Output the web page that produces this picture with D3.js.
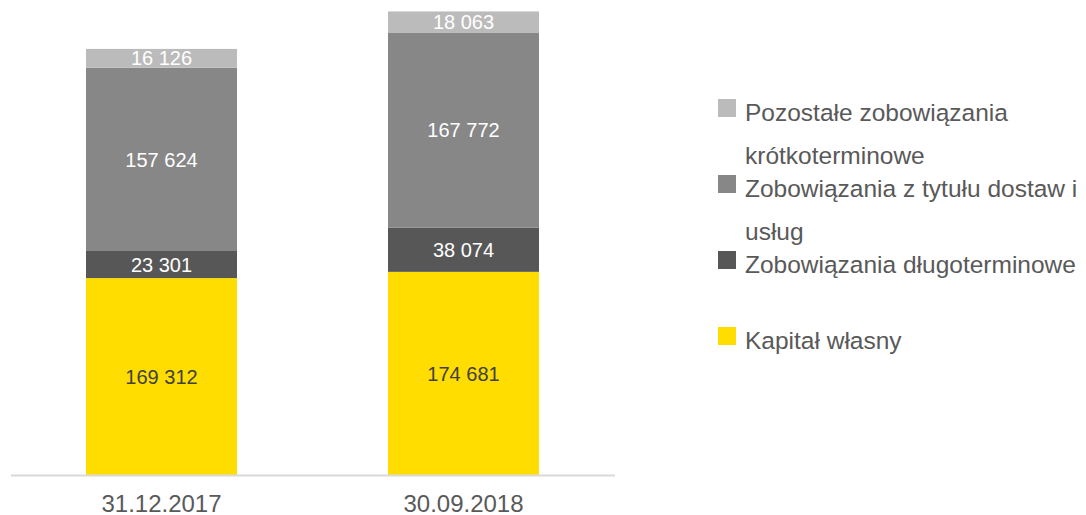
<!DOCTYPE html>
<meta charset="utf-8">
<style>
body { margin: 0; background: #fff; }
text { font-family: Arial, "Liberation Sans", sans-serif; }
</style>
<svg width="1086" height="515"></svg>
<script src="https://d3js.org/d3.v7.min.js"></script>
<script>

// data
var dates = ["31.12.2017", "30.09.2018"];
var kapital = [169312, 174681];
var dlugo = [23301, 38074];
var dostawy = [157624, 167772];
var pozostale = [16126, 18063];

var seriesNames = ["Kapitał własny", "Zobowiązania długoterminowe",
  "Zobowiązania z tytułu dostaw i usług", "Pozostałe zobowiązania krótkoterminowe"];
var seriesKeys = ["kapital", "dlugo", "dostawy", "pozostale"];
var seriesColors = ["#ffdd00", "#575757", "#878787", "#bbbbbb"];
var labelColors = ["#404040", "#ffffff", "#ffffff", "#ffffff"];

// legend lines (wrapped like the original), top to bottom
var legendLines = [
  ["Pozostałe zobowiązania", "krótkoterminowe"],
  ["Zobowiązania z tytułu dostaw i", "usług"],
  ["Zobowiązania długoterminowe"],
  ["Kapitał własny"]
];
var legendColors = ["#bbbbbb", "#878787", "#575757", "#ffdd00"];

var rows = dates.map(function(d, i) {
  return { date: d, kapital: kapital[i], dlugo: dlugo[i], dostawy: dostawy[i], pozostale: pozostale[i] };
});

var svg = d3.select("svg");

var x = d3.scaleBand()
    .domain(dates)
    .range([10.5, 614.5])
    .paddingInner(0.5)
    .paddingOuter(0.25);

var y = d3.scaleLinear()
    .domain([0, 400000])
    .range([475, 9.8]);

var stack = d3.stack().keys(seriesKeys);
var stacked = stack(rows);

var layers = svg.append("g").selectAll("g")
  .data(stacked)
  .enter().append("g")
    .attr("fill", function(d, i) { return seriesColors[i]; });

layers.selectAll("rect")
  .data(function(d) { return d; })
  .enter().append("rect")
    .attr("x", function(d) { return x(d.data.date); })
    .attr("width", x.bandwidth())
    .attr("y", function(d) { return y(d[1]); })
    .attr("height", function(d) { return y(d[0]) - y(d[1]); });

// value labels
var fmt = function(v) { return d3.format(",")(v).replace(/,/g, " "); };

stacked.forEach(function(layer, li) {
  svg.append("g").selectAll("text")
    .data(layer)
    .enter().append("text")
      .attr("x", function(d) { return x(d.data.date) + x.bandwidth() / 2; })
      .attr("y", function(d) { return (y(d[0]) + y(d[1])) / 2; })
      .attr("dy", "0.36em")
      .attr("text-anchor", "middle")
      .attr("font-size", 20)
      .attr("fill", labelColors[li])
      .text(function(d) { return fmt(d[1] - d[0]); });
});

// axis
var axis = svg.append("g")
    .attr("transform", "translate(0,475)")
    .call(d3.axisBottom(x).tickSize(0).tickPadding(20));

axis.select(".domain")
    .attr("stroke", "#d9d9d9")
    .attr("stroke-width", 2);

axis.selectAll("text")
    .attr("font-size", 24)
    .attr("font-family", "Arial, 'Liberation Sans', sans-serif")
    .attr("fill", "#595959");

// legend
var legend = svg.append("g").attr("transform", "translate(718,99)");

legendLines.forEach(function(lines, i) {
  var item = legend.append("g").attr("transform", "translate(0," + (i * 76) + ")");
  item.append("rect")
    .attr("width", 18)
    .attr("height", 18)
    .attr("fill", legendColors[i]);
  lines.forEach(function(t, j) {
    item.append("text")
      .attr("x", 27)
      .attr("y", 22 + j * 43)
      .attr("font-size", 24.5)
      .attr("fill", "#595959")
      .text(t);
  });
});

</script>
